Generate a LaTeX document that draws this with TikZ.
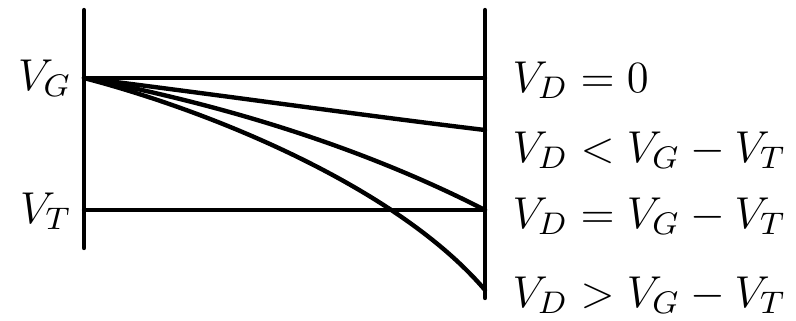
\RequirePackage{fix-cm}
\documentclass[tikz,border=0pt]{standalone}
\begin{document}
\begin{tikzpicture}[x=0.01cm,y=-0.01cm,
 every node/.style={font=\fontsize{12.7}{15}\selectfont,inner sep=0pt},
 wire/.style={line width=1.25pt,line cap=round}]
\useasboundingbox (0,0) rectangle (796,320);
% electrodes
\coordinate (gtop) at (84,10);
\coordinate (gbot) at (84,248);
\coordinate (dtop) at (485,10);
\coordinate (dbot) at (485,298);
\draw[wire] (gtop)--(gbot);
\draw[wire] (dtop)--(dbot);
% levels
\coordinate (src) at (84,78);
\coordinate (vtl) at (84,210);
\coordinate (d0) at (485,78);
\coordinate (d1) at (485,130);
\coordinate (d2) at (485,210);
\coordinate (d3) at (485,290);
\draw[wire] (src)--(d0);
\draw[wire] (vtl)--(d2);
\draw[wire] (src) .. controls (220,95) and (360,115) .. (d1);
\draw[wire] (src) .. controls (220,104) and (360,146) .. (d2);
\draw[wire] (src) .. controls (214,112) and (398,188) .. (d3);
% labels
\node[anchor=base east] (vg) at (72,90) {$V_G$};
\node[anchor=base east] (vt) at (72,223) {$V_T$};
\node[anchor=base west] (lab0) at (512,92) {$V_D = 0$};
\node[anchor=base west] (lab1) at (512,162) {$V_D < V_G - V_T$};
\node[anchor=base west] (lab2) at (512,228) {$V_D = V_G - V_T$};
\node[anchor=base west] (lab3) at (512,307) {$V_D > V_G - V_T$};
\end{tikzpicture}
\end{document}
